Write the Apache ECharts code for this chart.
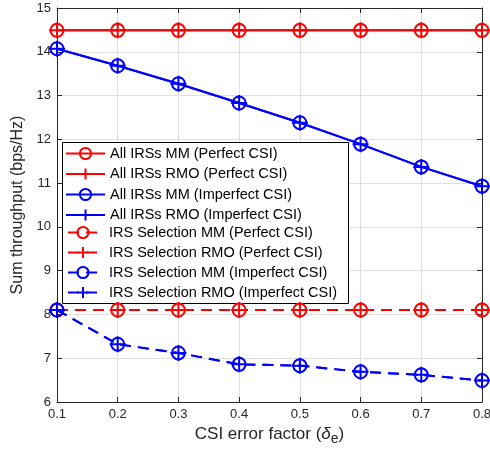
<!DOCTYPE html>
<html><head><meta charset="utf-8">
<script src="https://cdn.jsdelivr.net/npm/echarts@6/dist/echarts.min.js"></script>
<style>html,body{margin:0;padding:0;background:#fff}#c{width:490px;height:451px}</style>
</head><body><div id="c"></div>
<script>
const categories = ['0.1','0.2','0.3','0.4','0.5','0.6','0.7','0.8'];
const allMMPerfect   = [14.49,14.49,14.49,14.49,14.49,14.49,14.49,14.49];
const allRMOPerfect  = [14.49,14.49,14.49,14.49,14.49,14.49,14.49,14.49];
const allMMImperfect = [14.07,13.68,13.27,12.83,12.38,11.89,11.37,10.93];
const allRMOImperfect= [14.07,13.68,13.27,12.83,12.38,11.89,11.37,10.93];
const selMMPerfect   = [8.1,8.1,8.1,8.1,8.1,8.1,8.1,8.1];
const selRMOPerfect  = [8.1,8.1,8.1,8.1,8.1,8.1,8.1,8.1];
const selMMImperfect = [8.1,7.32,7.12,6.86,6.83,6.69,6.62,6.49];
const selRMOImperfect= [8.1,7.32,7.12,6.86,6.83,6.69,6.62,6.49];
const yTicks = {min:6, max:15, interval:1};
const names = ['All IRSs MM (Perfect CSI)','All IRSs RMO (Perfect CSI)','All IRSs MM (Imperfect CSI)','All IRSs RMO (Imperfect CSI)',
  'IRS Selection MM (Perfect CSI)','IRS Selection RMO (Perfect CSI)','IRS Selection MM (Imperfect CSI)','IRS Selection RMO (Imperfect CSI)'];

const RED='#ff0000', BLUE='#0000ff';
const PLUS='path://M0,-8 L0,8 M-8,0 L8,0';
function mk(name,data,color,dashed,plus){
  return {
    name:name, type:'line', data:data, color:color,
    xAxisIndex:0, yAxisIndex:0,
    symbol: plus?PLUS:'circle', symbolSize: plus?16:13,
    showAllSymbol:true,
    itemStyle:{color:'rgba(0,0,0,0)', borderColor:color, borderWidth:2},
    lineStyle:{color:color, width:2, type: dashed?[11,7]:'solid'},
    emphasis:{disabled:true}, animation:false, z: plus?4:3
  };
}
const series=[
  mk(names[0],allMMPerfect,RED,false,false),
  mk(names[1],allRMOPerfect,RED,false,true),
  mk(names[2],allMMImperfect,BLUE,false,false),
  mk(names[3],allRMOImperfect,BLUE,false,true),
  mk(names[4],selMMPerfect,RED,true,false),
  mk(names[5],selRMOPerfect,RED,true,true),
  mk(names[6],selMMImperfect,BLUE,true,false),
  mk(names[7],selRMOImperfect,BLUE,true,true)
];
const axisCol='#262626';
const font='"Liberation Sans", Arial, sans-serif';
const chart=echarts.init(document.getElementById('c'),null,{renderer:'canvas'});
chart.setOption({
  animation:false,
  textStyle:{fontFamily:font},
  grid:{left:57,right:8,top:8,bottom:49,containLabel:false,outerBoundsMode:'none'},
  xAxis:[{
    type:'category', data:categories, boundaryGap:false,
    axisLine:{lineStyle:{color:axisCol,width:1}},
    axisTick:{inside:true,length:5,lineStyle:{color:axisCol}},
    axisLabel:{color:axisCol,fontSize:13,margin:6,fontFamily:font},
    splitLine:{show:true,lineStyle:{color:'#dfdfdf',width:1}},
    name:'CSI error factor ({d|δ}{sub|e})', nameLocation:'middle', nameGap:21,
    nameTextStyle:{color:axisCol,fontSize:17,fontFamily:font,
      rich:{d:{fontSize:17,fontStyle:'italic',color:axisCol,fontFamily:font},
            sub:{fontSize:14,color:axisCol,fontFamily:font,padding:[9,0,0,0]}}}
  },{
    type:'category', data:categories, boundaryGap:false, position:'top',
    axisLine:{lineStyle:{color:axisCol,width:1}},
    axisTick:{inside:true,length:5,lineStyle:{color:axisCol}},
    axisLabel:{show:false}, splitLine:{show:false}
  }],
  yAxis:[{
    type:'value', min:yTicks.min, max:yTicks.max, interval:yTicks.interval,
    axisLine:{show:true,lineStyle:{color:axisCol,width:1}},
    axisTick:{show:true,inside:true,length:5,lineStyle:{color:axisCol}},
    axisLabel:{color:axisCol,fontSize:13,margin:6,fontFamily:font},
    splitLine:{show:true,lineStyle:{color:'#dfdfdf',width:1}},
    name:'Sum throughput (bps/Hz)', nameLocation:'middle', nameGap:23,
    nameTextStyle:{color:axisCol,fontSize:16,fontFamily:font}
  },{
    type:'value', min:yTicks.min, max:yTicks.max, interval:yTicks.interval, position:'right',
    axisLine:{show:true,lineStyle:{color:axisCol,width:1}},
    axisTick:{show:true,inside:true,length:5,lineStyle:{color:axisCol}},
    axisLabel:{show:false}, splitLine:{show:false}
  }],
  graphic:[{type:'rect',left:62,top:142,z:3,
    shape:{width:286,height:161},
    style:{fill:'#fff',stroke:'#000',lineWidth:1}}],
  legend:[{
    data:names.slice(0,4), orient:'vertical', left:65, top:146, padding:0,
    itemWidth:39, itemHeight:14, itemGap:5.5, selectedMode:false, z:5,
    textStyle:{fontSize:14.5,color:'#000',fontFamily:font}
  },{
    data:names.slice(4), orient:'vertical', left:67, top:225, padding:0,
    itemWidth:30, itemHeight:14, itemGap:5, selectedMode:false, z:5,
    textStyle:{fontSize:14.5,color:'#000',fontFamily:font,padding:[0,0,0,6]}
  }],
  series:series
});
</script></body></html>
